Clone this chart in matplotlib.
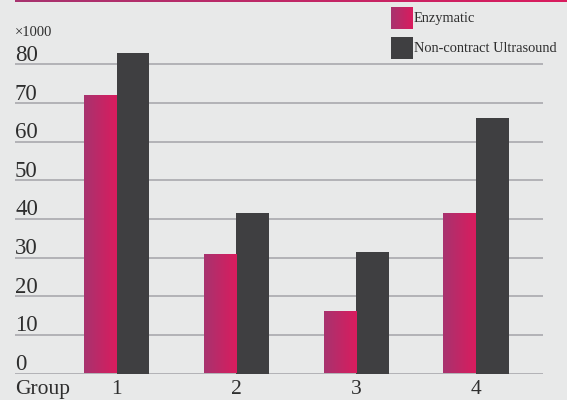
import numpy as np
import matplotlib
matplotlib.use("Agg")
import matplotlib.pyplot as plt
from matplotlib.colors import LinearSegmentedColormap
from matplotlib.patches import Rectangle

groups = ["1", "2", "3", "4"]
enzymatic = [72.1, 30.9, 16.2, 41.6]
ultrasound = [82.9, 41.6, 31.5, 66.1]
yticks = [0, 10, 20, 30, 40, 50, 60, 70, 80]

BG = "#E8E9E9"
DARK = "#3F3F41"
TEXT = "#2E2E2E"
GRID = "#A9A9AD"
grad = LinearSegmentedColormap.from_list("mag", ["#A8336F", "#D91C5E"])
ramp = np.linspace(0, 1, 64).reshape(1, -1)

plt.rcParams["font.family"] = ["Liberation Serif", "DejaVu Serif"]


def gradient_fill(ax, patch):
    x0, y0 = patch.get_x(), patch.get_y()
    w, h = patch.get_width(), patch.get_height()
    im = ax.imshow(ramp, cmap=grad, aspect="auto", extent=(x0, x0 + w, y0, y0 + h),
                   origin="lower", zorder=3, interpolation="bilinear")
    im.set_clip_path(patch)
    patch.set_facecolor("none")


fig = plt.figure(figsize=(5.67, 4.0), dpi=100, facecolor=BG)
W, H = 567, 400

# top accent line
top = fig.add_axes([15 / W, 1 - 2.5 / H, 552 / W, 2.5 / H])
top.imshow(ramp, cmap=grad, aspect="auto", extent=(0, 1, 0, 1))
top.set_axis_off()

ax = fig.add_axes([15 / W, 26.5 / H, 528 / W, 333.5 / H])
ax.set_facecolor(BG)
x = np.arange(1, len(groups) + 1)
bw = 0.272
bars_e = ax.bar(x - bw / 2, enzymatic, width=bw, color="none", zorder=3, linewidth=0)
bars_u = ax.bar(x + bw / 2, ultrasound, width=bw, color=DARK, zorder=3, linewidth=0)
for p in bars_e:
    gradient_fill(ax, p)

ax.set_xlim(0.152, 4.56)
ax.set_ylim(0, 86.3)
for v in yticks:
    ax.axhline(v, color=GRID, lw=1.2, zorder=1)
    ax.annotate(str(v), xy=(0, v), xycoords=("axes fraction", "data"),
                xytext=(0, 2.5), textcoords="offset points",
                ha="left", va="baseline", fontsize=16.5, color=TEXT)
ax.set_yticks([])
ax.set_xticks(x)
ax.set_xticklabels(groups, fontsize=15.5, color=TEXT)
ax.tick_params(axis="x", length=0, pad=5)
for s in ax.spines.values():
    s.set_visible(False)
ax.annotate("Group", xy=(0, 0), xycoords="axes fraction", xytext=(0, -5),
            textcoords="offset points", ha="left", va="top", fontsize=15.5, color=TEXT)
fig.text(15 / W, 1 - 32 / H, "×1000", ha="left", va="center", fontsize=10.5, color=TEXT)

# legend
leg = fig.add_axes([391 / W, 1 - 59 / H, 176 / W, 52 / H])
leg.set_axis_off()
sw1 = Rectangle((0, 0), 22, 22, facecolor="none", linewidth=0)
leg.add_patch(sw1)
im = leg.imshow(ramp, cmap=grad, aspect="auto", extent=(0, 22, 22, 0))
im.set_clip_path(sw1)
leg.add_patch(Rectangle((0, 30), 22, 22, facecolor=DARK, linewidth=0))
leg.set_xlim(0, 176)
leg.set_ylim(52, 0)
leg.text(23, 11.5, "Enzymatic", ha="left", va="center", fontsize=10.4, color=TEXT)
leg.text(23, 41.5, "Non-contract Ultrasound", ha="left", va="center", fontsize=10.4, color=TEXT)

fig.savefig("out.png", dpi=100, facecolor=BG)
